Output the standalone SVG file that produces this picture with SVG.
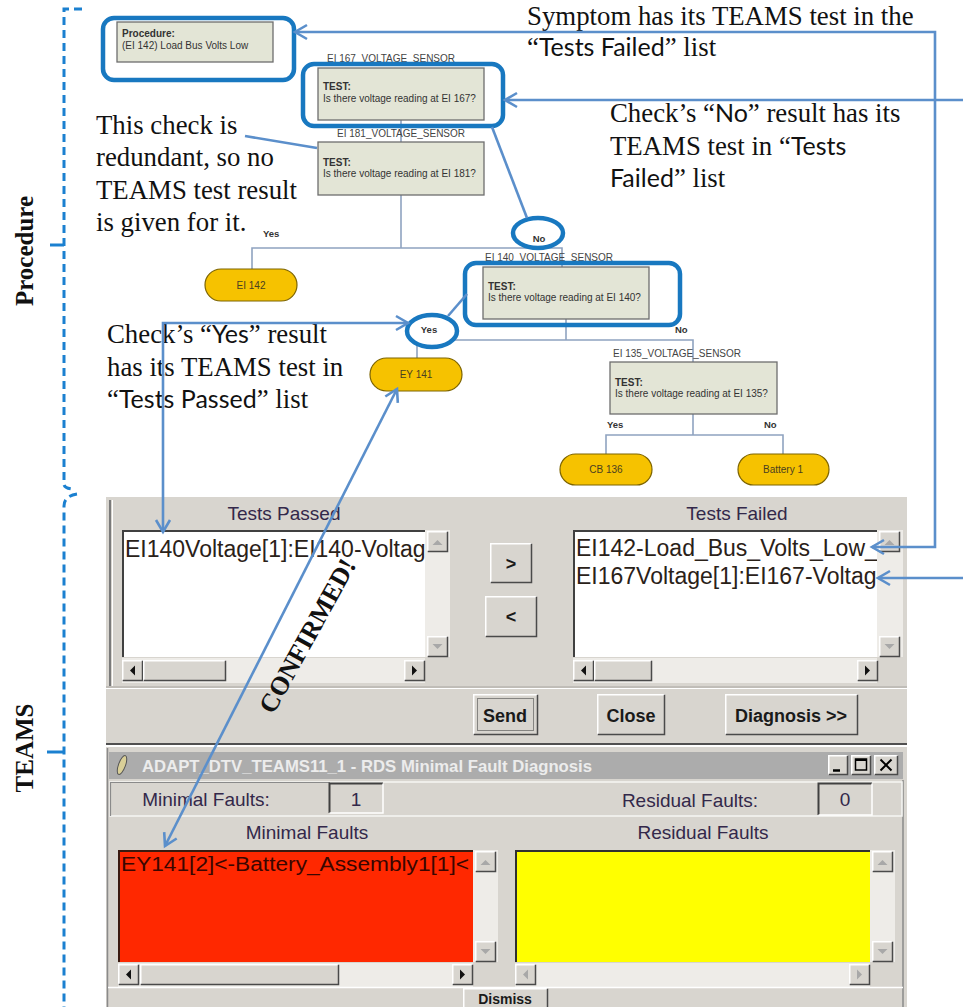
<svg xmlns="http://www.w3.org/2000/svg" width="963" height="1007" viewBox="0 0 963 1007">
<style>
.serif{font-family:"Liberation Serif","Times New Roman",serif;font-size:26.8px;fill:#111}
.sans{font-family:Lato,"Open Sans","Liberation Sans",sans-serif;font-size:25px}
.side{font-family:"Liberation Serif","Times New Roman",serif;font-size:25px;font-weight:bold;fill:#111}
.node{font-family:"Liberation Sans",Arial,sans-serif;font-size:10px;fill:#333}
.lbl{font-family:"Liberation Sans",Arial,sans-serif;font-size:10px;fill:#444}
.yn{font-family:"Liberation Sans",Arial,sans-serif;font-size:9.5px;font-weight:bold;fill:#333}
.ovtxt{font-family:"Liberation Sans",Arial,sans-serif;font-size:10px;fill:#4a4020;text-anchor:middle}
.box{fill:#e3e5d6;stroke:#6e6e6e;stroke-width:1.3}
.oval{fill:#f6c200;stroke:#7d6400;stroke-width:1.2}
.tree{stroke:#8fa3c0;stroke-width:1.6;fill:none}
.hl{fill:none;stroke:#1878c0;stroke-width:4.5}
.con{fill:none;stroke:#5b8fcb;stroke-width:2.6}
.brace{fill:none;stroke:#1b80d0;stroke-width:3;stroke-dasharray:8 5}
.ui{font-family:"Liberation Sans",Arial,sans-serif;font-size:19px;fill:#33284a}
.uib{font-family:"Liberation Sans",Arial,sans-serif;font-size:18px;font-weight:bold;fill:#1a1a1a;text-anchor:middle}
.list{font-family:"Liberation Sans",Arial,sans-serif;font-size:23px;fill:#2a2118}
.bg{fill:#d8d5cf}
.track{fill:#eeece8}
.hi{stroke:#ffffff;fill:none;stroke-width:1.5}
.sh{stroke:#4a4a4a;fill:none;stroke-width:1.5}
</style>
<defs>
<marker id="arr" viewBox="0 0 14 16" refX="13" refY="8" markerWidth="14" markerHeight="16" markerUnits="userSpaceOnUse" orient="auto-start-reverse" overflow="visible">
<path d="M1,1 L13,8 L1,15" fill="none" stroke="#5b8fcb" stroke-width="2.6"/>
</marker>
<g id="sbb">
<rect x="0" y="0" width="21" height="21" class="bg"/>
<path d="M0.75,20.5 V0.75 H20.5" class="hi"/>
<path d="M20.5,0.75 V20.5 H0.75" class="sh"/>
</g>
<polygon id="tup" points="-5,3 5,3 0,-2" fill="#a8a8a8"/>
<polygon id="tdn" points="-5,-2 5,-2 0,3" fill="#a8a8a8"/>
<polygon id="tlb" points="3,-5 3,5 -2,0" fill="#111"/>
<polygon id="trb" points="-2,-5 -2,5 3,0" fill="#111"/>
<polygon id="tlg" points="3,-5 3,5 -2,0" fill="#a8a8a8"/>
<polygon id="trg" points="-2,-5 -2,5 3,0" fill="#a8a8a8"/>
<clipPath id="c1"><rect x="122" y="530" width="303" height="127"/></clipPath>
<clipPath id="c2"><rect x="573" y="530" width="304" height="127"/></clipPath>
<clipPath id="c3"><rect x="118" y="850" width="355" height="112"/></clipPath>
</defs>

<rect width="963" height="1007" fill="#ffffff"/>

<!-- side braces and labels -->
<g id="braces">
<path class="brace" d="M82,9 H64 V484 Q64,488 72,489"/>
<path d="M64,245 H50" stroke="#1b80d0" stroke-width="3"/>
<path class="brace" d="M77,494 Q64,496 64,506 V1007"/>
<path d="M64,752 H47" stroke="#1b80d0" stroke-width="3"/>
<text class="side" transform="translate(33,251) rotate(-90)" text-anchor="middle">Procedure</text>
<text class="side" transform="translate(33,748) rotate(-90)" text-anchor="middle">TEAMS</text>
</g>

<!-- flowchart tree lines -->
<g id="tree-connectors">
<path class="tree" d="M401,120 V142"/>
<path class="tree" d="M401,195 V248"/>
<path class="tree" d="M252,269 V248 H562 V267"/>
<path class="tree" d="M566,319 V340"/>
<path class="tree" d="M417,358 V340 H693 V362"/>
<path class="tree" d="M693,414 V435"/>
<path class="tree" d="M606,454 V435 H783 V454"/>
<text class="yn" x="263" y="237">Yes</text>
<text class="yn" x="675" y="333">No</text>
<text class="yn" x="607" y="428">Yes</text>
<text class="yn" x="764" y="428">No</text>
</g>

<!-- nodes -->
<g id="node-procedure">
<rect class="box" x="117" y="22" width="156" height="40"/>
<text class="node" x="122" y="37" font-weight="bold">Procedure:</text>
<text class="node" x="122" y="49">(EI 142) Load Bus Volts Low</text>
<rect class="hl" x="103" y="18" width="191" height="62" rx="11"/>
</g>
<g id="node-ei167">
<text class="lbl" x="327" y="62">EI 167_VOLTAGE_SENSOR</text>
<rect class="box" x="318" y="68" width="166" height="52"/>
<text class="node" x="323" y="90" font-weight="bold">TEST:</text>
<text class="node" x="323" y="102">Is there voltage reading at EI 167?</text>
<rect class="hl" x="303" y="64" width="200" height="62" rx="11"/>
</g>
<g id="node-ei181">
<text class="lbl" x="337" y="137">EI 181_VOLTAGE_SENSOR</text>
<rect class="box" x="318" y="142" width="166" height="53"/>
<text class="node" x="323" y="166" font-weight="bold">TEST:</text>
<text class="node" x="323" y="177">Is there voltage reading at EI 181?</text>
</g>
<g id="node-no1">
<ellipse class="hl" cx="538" cy="233" rx="25" ry="15" style="fill:#fff"/>
<text class="yn" x="539" y="242" text-anchor="middle">No</text>
</g>
<g id="node-ei140">
<text class="lbl" x="485" y="261">EI 140_VOLTAGE_SENSOR</text>
<rect class="box" x="483" y="267" width="166" height="52"/>
<text class="node" x="488" y="290" font-weight="bold">TEST:</text>
<text class="node" x="488" y="301">Is there voltage reading at EI 140?</text>
<rect class="hl" x="465" y="263" width="215" height="62" rx="11"/>
</g>
<g id="node-yes1">
<ellipse class="hl" cx="432" cy="331" rx="25" ry="16" style="fill:#fff"/>
<text class="yn" x="429" y="333" text-anchor="middle">Yes</text>
</g>
<g id="node-ei135">
<text class="lbl" x="613" y="357">EI 135_VOLTAGE_SENSOR</text>
<rect class="box" x="610" y="362" width="167" height="52"/>
<text class="node" x="615" y="386" font-weight="bold">TEST:</text>
<text class="node" x="615" y="397">Is there voltage reading at EI 135?</text>
</g>
<g id="node-ei142">
<rect class="oval" x="205" y="269" width="92" height="32" rx="16"/>
<text class="ovtxt" x="251" y="289">EI 142</text>
</g>
<g id="node-ey141">
<rect class="oval" x="370" y="358" width="92" height="33" rx="16.5"/>
<text class="ovtxt" x="416" y="378">EY 141</text>
</g>
<g id="node-cb136">
<rect class="oval" x="560" y="454" width="92" height="31" rx="15.5"/>
<text class="ovtxt" x="606" y="473">CB 136</text>
</g>
<g id="node-battery1">
<rect class="oval" x="738" y="454" width="91" height="31" rx="15.5"/>
<text class="ovtxt" x="783" y="473">Battery 1</text>
</g>

<!-- annotations -->
<g id="annotations">
<text class="serif" x="527" y="25">Symptom has its TEAMS test in the</text>
<text class="serif" x="527" y="56">“<tspan class="sans">Tests Failed</tspan>” list</text>
<text class="serif" x="610" y="122">Check’s “<tspan class="sans">No</tspan>” result has its</text>
<text class="serif" x="610" y="155">TEAMS test in “<tspan class="sans">Tests</tspan></text>
<text class="serif" x="610" y="187"><tspan class="sans">Failed</tspan>” list</text>
<text class="serif" x="96" y="134">This check is</text>
<text class="serif" x="96" y="166">redundant, so no</text>
<text class="serif" x="96" y="199">TEAMS test result</text>
<text class="serif" x="96" y="231">is given for it.</text>
<text class="serif" x="107" y="343">Check’s “<tspan class="sans">Yes</tspan>” result</text>
<text class="serif" x="107" y="376">has its TEAMS test in</text>
<text class="serif" x="107" y="408">“<tspan class="sans">Tests Passed</tspan>” list</text>
</g>

<!-- TEAMS test window -->
<g id="teams-window">
<rect class="bg" x="106" y="497" width="801" height="248"/>
<path d="M110,500 V686" stroke="#7a7a7a" stroke-width="2"/>
<path d="M112.5,500 V686" stroke="#fff" stroke-width="1"/>
<path d="M106,687 H907" stroke="#a8a5a0" stroke-width="1"/>
<path d="M106,688.5 H907" stroke="#fff" stroke-width="1"/>
<path d="M106,744 H907" stroke="#505050" stroke-width="2"/>
<text class="ui" x="284" y="520" text-anchor="middle">Tests Passed</text>
<text class="ui" x="737" y="520" text-anchor="middle">Tests Failed</text>

<g id="list-passed">
<rect x="122" y="530" width="303" height="127" fill="#fff"/>
<text class="list" x="125" y="557" clip-path="url(#c1)">EI140Voltage[1]:EI140-Voltage</text>
<path d="M123,657 V531 H425" stroke="#404040" stroke-width="2" fill="none"/>
<rect class="track" x="425" y="530" width="25" height="127"/>
<use href="#sbb" x="427" y="531"/><use href="#tup" x="437.5" y="542"/>
<use href="#sbb" x="427" y="636"/><use href="#tdn" x="437.5" y="646"/>
<rect class="track" x="122" y="658" width="303" height="25"/>
<use href="#sbb" x="122" y="660"/><use href="#tlb" x="132" y="670.5"/>
<rect class="bg" x="143" y="660" width="83" height="21"/>
<path d="M143.75,680.5 V660.75 H225.5" class="hi"/><path d="M225.5,660.75 V680.5 H143.75" class="sh"/>
<use href="#sbb" x="404" y="660"/><use href="#trb" x="414" y="670.5"/>
</g>

<g id="btn-right">
<rect class="bg" x="490" y="543" width="42" height="40"/>
<path d="M490.75,582.5 V543.75 H531.5" class="hi"/><path d="M531.5,543.75 V582.5 H490.75" class="sh"/>
<text class="uib" x="511" y="570">&gt;</text>
</g>
<g id="btn-left">
<rect class="bg" x="485" y="596" width="52" height="41"/>
<path d="M485.75,636.5 V596.75 H536.5" class="hi"/><path d="M536.5,596.75 V636.5 H485.75" class="sh"/>
<text class="uib" x="511" y="623">&lt;</text>
</g>

<g id="list-failed">
<rect x="573" y="530" width="304" height="127" fill="#fff"/>
<text class="list" x="576" y="556" clip-path="url(#c2)">EI142-Load_Bus_Volts_Low_</text>
<text class="list" x="576" y="584" clip-path="url(#c2)">EI167Voltage[1]:EI167-Voltage</text>
<path d="M574,657 V531 H877" stroke="#404040" stroke-width="2" fill="none"/>
<rect class="track" x="877" y="530" width="26" height="127"/>
<use href="#sbb" x="879" y="531"/><use href="#tup" x="889.5" y="542"/>
<use href="#sbb" x="879" y="636"/><use href="#tdn" x="889.5" y="646"/>
<rect class="track" x="573" y="658" width="304" height="25"/>
<use href="#sbb" x="573" y="660"/><use href="#tlb" x="583" y="670.5"/>
<rect class="bg" x="594" y="660" width="58" height="21"/>
<path d="M594.75,680.5 V660.75 H651.5" class="hi"/><path d="M651.5,660.75 V680.5 H594.75" class="sh"/>
<use href="#sbb" x="857" y="660"/><use href="#trb" x="867" y="670.5"/>
</g>

<g id="btn-send">
<rect class="bg" x="473" y="694" width="65" height="41"/>
<path d="M473.75,734.5 V694.75 H537.5" class="hi"/><path d="M537.5,694.75 V734.5 H473.75" class="sh"/>
<rect x="477.5" y="698.5" width="56" height="32" fill="none" stroke="#333" stroke-width="1" stroke-dasharray="1 1"/>
<text class="uib" x="505" y="722">Send</text>
</g>
<g id="btn-close">
<rect class="bg" x="597" y="694" width="68" height="41"/>
<path d="M597.75,734.5 V694.75 H664.5" class="hi"/><path d="M664.5,694.75 V734.5 H597.75" class="sh"/>
<text class="uib" x="631" y="722">Close</text>
</g>
<g id="btn-diagnosis">
<rect class="bg" x="725" y="694" width="133" height="41"/>
<path d="M725.75,734.5 V694.75 H857.5" class="hi"/><path d="M857.5,694.75 V734.5 H725.75" class="sh"/>
<text class="uib" x="791" y="722">Diagnosis &gt;&gt;</text>
</g>
</g>

<!-- Minimal fault diagnosis window -->
<g id="diagnosis-window">
<rect class="bg" x="106" y="747" width="801" height="260"/>
<path d="M107.5,748 V1007" stroke="#8a8a8a" stroke-width="1.5"/>
<path d="M903,780 V1007" stroke="#8a8a8a" stroke-width="1.5"/>
<rect x="109" y="752" width="794" height="27" fill="#acacac"/>
<ellipse cx="122" cy="765" rx="3.5" ry="10" transform="rotate(20 122 765)" fill="#d9cf98" stroke="#555" stroke-width="1"/>
<text x="142" y="772" font-family="'Liberation Sans',Arial,sans-serif" font-size="16.5" font-weight="bold" fill="#ececec" textLength="450" lengthAdjust="spacingAndGlyphs">ADAPT_DTV_TEAMS11_1 - RDS Minimal Fault Diagnosis</text>
<g id="win-buttons">
<rect class="bg" x="828" y="755" width="20" height="20"/>
<path d="M828.75,774.5 V755.75 H847.5" class="hi"/><path d="M847.5,755.75 V774.5 H828.75" class="sh"/>
<path d="M833,770.5 H840" stroke="#000" stroke-width="2.5"/>
<rect class="bg" x="851" y="755" width="20" height="20"/>
<path d="M851.75,774.5 V755.75 H870.5" class="hi"/><path d="M870.5,755.75 V774.5 H851.75" class="sh"/>
<rect x="855.5" y="759" width="11" height="11" fill="none" stroke="#000" stroke-width="1.5"/>
<path d="M855.5,760 H866.5" stroke="#000" stroke-width="2"/>
<rect class="bg" x="874" y="755" width="24" height="20"/>
<path d="M874.75,774.5 V755.75 H897.5" class="hi"/><path d="M897.5,755.75 V774.5 H874.75" class="sh"/>
<path d="M880.5,759.5 L891.5,770.5 M891.5,759.5 L880.5,770.5" stroke="#000" stroke-width="2"/>
</g>

<rect x="110" y="782" width="792" height="34" fill="none" stroke="#f6f6f4" stroke-width="1.5"/>
<path d="M110.5,816 V782.5 H330" stroke="#8a8a8a" stroke-width="1.2" fill="none"/>
<text class="ui" x="206" y="806" text-anchor="middle">Minimal Faults:</text>
<g id="val-minimal">
<path d="M329.5,813 V783.5 H383" stroke="#404040" stroke-width="2" fill="none"/>
<path d="M383,783.5 V813 H329.5" stroke="#fff" stroke-width="1.5" fill="none"/>
<text class="ui" x="356" y="806" text-anchor="middle">1</text>
</g>
<text class="ui" x="690" y="807" text-anchor="middle">Residual Faults:</text>
<g id="val-residual">
<path d="M818.5,815 V783.5 H872" stroke="#404040" stroke-width="2" fill="none"/>
<path d="M872,783.5 V815 H818.5" stroke="#fff" stroke-width="1.5" fill="none"/>
<text class="ui" x="845" y="806" text-anchor="middle">0</text>
</g>
<text class="ui" x="307" y="839" text-anchor="middle">Minimal Faults</text>
<text class="ui" x="703" y="839" text-anchor="middle">Residual Faults</text>

<g id="list-minimal">
<rect x="118" y="850" width="355" height="112" fill="#ff2800"/>
<text x="121" y="871" font-family="'Liberation Sans',Arial,sans-serif" font-size="20" fill="#3a0600" textLength="348" lengthAdjust="spacingAndGlyphs" clip-path="url(#c3)">EY141[2]&lt;-Battery_Assembly1[1]&lt;</text>
<path d="M119,962 V851 H473" stroke="#3a1a10" stroke-width="2" fill="none"/>
<rect class="track" x="473" y="850" width="25" height="112"/>
<use href="#sbb" x="475" y="851"/><use href="#tup" x="485.5" y="862"/>
<use href="#sbb" x="475" y="941"/><use href="#tdn" x="485.5" y="951"/>
<rect class="track" x="118" y="963" width="355" height="24"/>
<use href="#sbb" x="118" y="964"/><use href="#tlb" x="128" y="974.5"/>
<rect class="bg" x="140" y="964" width="199" height="21"/>
<path d="M140.75,984.5 V964.75 H338.5" class="hi"/><path d="M338.5,964.75 V984.5 H140.75" class="sh"/>
<use href="#sbb" x="452" y="964"/><use href="#trb" x="462" y="974.5"/>
</g>

<g id="list-residual">
<rect x="515" y="850" width="355" height="112" fill="#ffff00"/>
<path d="M516,962 V851 H870" stroke="#303030" stroke-width="2" fill="none"/>
<rect class="track" x="870" y="850" width="25" height="112"/>
<use href="#sbb" x="872" y="851"/><use href="#tup" x="882.5" y="862"/>
<use href="#sbb" x="872" y="941"/><use href="#tdn" x="882.5" y="951"/>
<rect class="track" x="515" y="963" width="355" height="24"/>
<use href="#sbb" x="515" y="964"/><use href="#tlg" x="525" y="974.5"/>
<use href="#sbb" x="849" y="964"/><use href="#trg" x="859" y="974.5"/>
</g>

<path d="M108,987.5 H903" stroke="#fff" stroke-width="1.5"/>
<g id="btn-dismiss">
<rect class="bg" x="463" y="988" width="85" height="19"/>
<path d="M463.75,1007 V988.75 H547.5" class="hi"/><path d="M547.5,988.75 V1007" class="sh"/>
<text class="uib" x="505" y="1004" style="font-size:14px">Dismiss</text>
</g>
</g>

<!-- annotation connectors -->
<g id="connectors">
<path class="con" d="M872,547 H935 V32 H295" marker-start="url(#arr)" marker-end="url(#arr)"/>
<path class="con" d="M963,100 H505" marker-end="url(#arr)"/>
<path class="con" d="M963,578 H878" marker-end="url(#arr)"/>
<path class="con" d="M245,136 L317,148"/>
<path class="con" d="M163,532 V323 H408" marker-start="url(#arr)" marker-end="url(#arr)"/>
<path class="con" d="M397,389 L165,846" marker-start="url(#arr)" marker-end="url(#arr)"/>
<path class="con" d="M492,127 L527,218"/>
<path class="con" d="M467,294 L448,316"/>
</g>

<text class="side" transform="translate(315,640) rotate(-61)" text-anchor="middle" style="font-size:26px">CONFIRMED!</text>
</svg>
